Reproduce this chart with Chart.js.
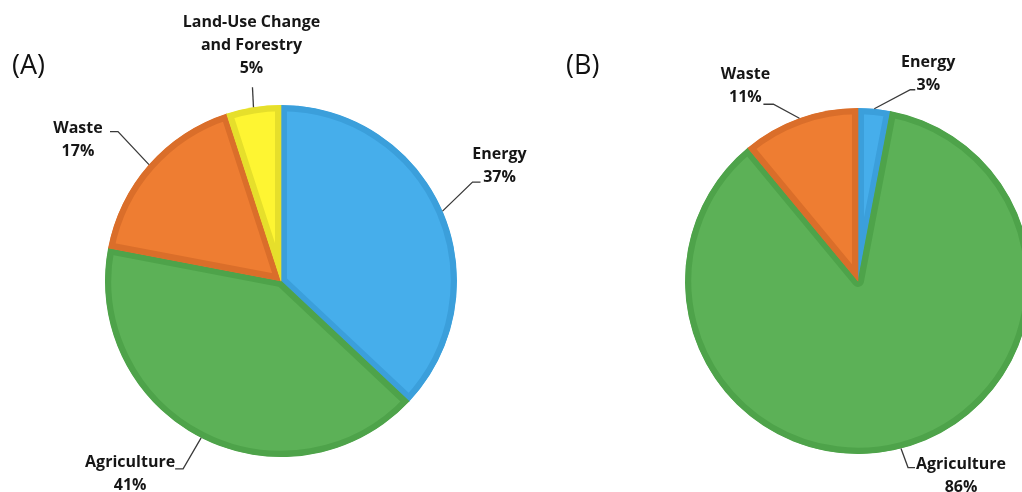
<!DOCTYPE html>
<html>
<head>
<meta charset="utf-8">
<script src="https://cdn.jsdelivr.net/npm/chart.js@4/dist/chart.umd.min.js"></script>
<style>
  html, body { margin: 0; padding: 0; background: #fff; }
  body { width: 1022px; height: 492px; overflow: hidden; position: relative; }
  .wrap { position: absolute; width: 562px; height: 562px; }
  .tag { position: absolute; font-family: "Open Sans", sans-serif; font-size: 27px; color: #111; z-index: 5; line-height: 1; }
</style>
</head>
<body>
<div class="tag" style="left:12px; top:50px;">(A)</div>
<div class="tag" style="left:566px; top:50px;">(B)</div>
<div class="wrap" style="left:0px; top:0px;"><canvas id="pieA"></canvas></div>
<div class="wrap" style="left:577px; top:0px;"><canvas id="pieB"></canvas></div>
<script>
// Sector shares, in percent
const categoriesA = ["Energy", "Agriculture", "Waste", "Land-Use Change and Forestry"];
const valuesA = [37, 41, 17, 5];
const labelLinesA = [["Energy", "37%"], ["Agriculture", "41%"], ["Waste", "17%"], ["Land-Use Change", "and Forestry", "5%"]];

const categoriesB = ["Energy", "Agriculture", "Waste"];
const valuesB = [3, 86, 11];
const labelLinesB = [["Energy", "3%"], ["Agriculture", "86%"], ["Waste", "11%"]];

const fill = {
  "Energy": "#46AEEB",
  "Agriculture": "#5CB157",
  "Waste": "#EE7D32",
  "Land-Use Change and Forestry": "#FEF532"
};
const edge = {
  "Energy": "#3B9FDB",
  "Agriculture": "#4EA34A",
  "Waste": "#DA6E2A",
  "Land-Use Change and Forestry": "#E6DF2B"
};

// Callout placement per slice: elbow offset from the rim point, horizontal tail, text block centre offset
const calloutA = [
  { elbow: [30, -29], tail: 8, text: [57, -45] },
  { elbow: [-18, 31], tail: -8, text: [-71, 36] },
  { elbow: [-31, -33], tail: -8, text: [-71, -25] },
  { elbow: [-1, -20], tail: 0, text: [-2, -62] }
];
const calloutB = [
  { elbow: [36, -19], tail: 5, text: [54, -35] },
  { elbow: [7, 19], tail: 7, text: [60, 27] },
  { elbow: [-26, -14], tail: -10, text: [-54, -32] }
];

const calloutPlugin = {
  id: "callouts",
  afterDatasetsDraw(chart, args, opts) {
    const ctx = chart.ctx;
    const arcs = chart.getDatasetMeta(0).data;
    ctx.save();
    ctx.font = "bold 16px 'Open Sans', sans-serif";
    ctx.textAlign = "center";
    ctx.textBaseline = "middle";
    arcs.forEach((arc, i) => {
      const p = arc.getProps(["x", "y", "startAngle", "endAngle", "outerRadius"], true);
      const mid = (p.startAngle + p.endAngle) / 2;
      const ax = p.x + Math.cos(mid) * p.outerRadius;
      const ay = p.y + Math.sin(mid) * p.outerRadius;
      const c = opts.layout[i];
      const ex = ax + c.elbow[0], ey = ay + c.elbow[1];
      ctx.strokeStyle = "#3a3a3a";
      ctx.lineWidth = 1.3;
      ctx.beginPath();
      ctx.moveTo(ax, ay);
      ctx.lineTo(ex, ey);
      if (c.tail) ctx.lineTo(ex + c.tail, ey);
      ctx.stroke();
      const lines = opts.lines[i];
      const lh = 23;
      const cx = ax + c.text[0];
      const cy = ay + c.text[1] - (lines.length - 1) * lh / 2;
      ctx.fillStyle = "#161616";
      lines.forEach((t, k) => ctx.fillText(t, cx, cy + k * lh));
    });
    ctx.restore();
  }
};

function makePie(id, cats, vals, radius, lines, layout) {
  return new Chart(document.getElementById(id), {
    type: "pie",
    data: {
      labels: cats,
      datasets: [{
        data: vals,
        backgroundColor: cats.map(c => fill[c]),
        borderColor: cats.map(c => edge[c]),
        borderWidth: 6,
        borderAlign: "inner",
        hoverBorderWidth: 6
      }]
    },
    options: {
      responsive: false,
      animation: false,
      radius: radius,
      layout: { padding: 0 },
      plugins: {
        legend: { display: false },
        tooltip: { enabled: false },
        callouts: { lines: lines, layout: layout }
      }
    },
    plugins: [calloutPlugin]
  });
}

["pieA", "pieB"].forEach(id => {
  const cv = document.getElementById(id);
  cv.width = 562; cv.height = 562;
  cv.style.width = "562px"; cv.style.height = "562px";
});

makePie("pieA", categoriesA, valuesA, 176, labelLinesA, calloutA);
makePie("pieB", categoriesB, valuesB, 173, labelLinesB, calloutB);
</script>
</body>
</html>
